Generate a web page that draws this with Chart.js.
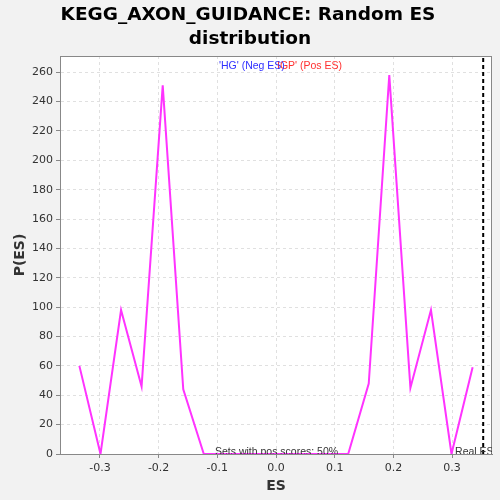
<!DOCTYPE html>
<html lang="en">
<head>
    <meta charset="UTF-8">
    <title>KEGG_AXON_GUIDANCE: Random ES distribution</title>
    <style>
        body {
            margin: 0;
            padding: 0;
            background-color: #f2f2f2;
            overflow: hidden;
        }
        #wrap {
            width: 500px;
            height: 500px;
        }
    </style>
    <script src="https://cdn.jsdelivr.net/npm/chart.js"></script>
</head>
<body>

<div id="wrap"><canvas id="esChart" width="500" height="500"></canvas></div>

<script>
    // Random ES distribution
    const esValues = [-0.335, -0.299, -0.264, -0.229, -0.193, -0.158, -0.123, -0.087, -0.052, -0.017,
                      0.017, 0.052, 0.087, 0.123, 0.158, 0.193, 0.229, 0.264, 0.299, 0.335];
    const pValues = [60, 0, 98, 46, 251, 44, 0, 0, 0, 0,
                     0, 0, 0, 0, 48, 258, 45, 98, 0, 59];

    // Real ES marker and axis range
    const realES = 0.353;
    const xRange = [-0.368, 0.368];
    const yRange = [0, 271];

    const titleLines = ['KEGG_AXON_GUIDANCE: Random ES', 'distribution'];
    const negLabel = "'HG' (Neg ES)";
    const posLabel = "IGP' (Pos ES)";
    const posScoreText = 'Sets with pos scores: 50%';
    const realEsText = 'Real ES 0.';

    const fontFamily = '"DejaVu Sans", sans-serif';
    const smallFont = '10.5px "Liberation Sans", Arial, sans-serif';

    // Draws title, axis titles, plot background and the little text labels
    const decorations = {
        id: 'decorations',
        beforeDraw(chart) {
            const c = chart.ctx;
            const a = chart.chartArea;
            c.save();
            c.fillStyle = '#ffffff';
            c.fillRect(a.left, a.top, a.right - a.left, a.bottom - a.top);
            c.restore();
        },
        afterDraw(chart) {
            const c = chart.ctx;
            const a = chart.chartArea;
            const xs = chart.scales.x;
            c.save();
            // plot frame
            c.strokeStyle = '#888888';
            c.lineWidth = 1;
            c.strokeRect(a.left + 0.5, a.top + 0.5, a.right - a.left - 1, a.bottom - a.top);

            // title
            c.fillStyle = '#000000';
            c.font = 'bold 18.5px ' + fontFamily;
            c.textAlign = 'center';
            c.textBaseline = 'middle';
            c.fillText(titleLines[0], 248, 15);
            c.fillText(titleLines[1], 250, 39);

            // axis titles
            c.fillStyle = '#333333';
            c.font = 'bold 14px ' + fontFamily;
            c.fillText('ES', 276, 486);
            c.save();
            c.translate(20, 255);
            c.rotate(-Math.PI / 2);
            c.fillText('P(ES)', 0, 0);
            c.restore();

            // legend texts
            c.font = smallFont;
            c.textAlign = 'left';
            c.fillStyle = '#ff3030';
            c.fillText(posLabel, 277, 66);
            c.fillStyle = '#3030ff';
            c.fillText(negLabel, 219, 66);

            // bottom texts, cut by the axis line
            c.fillStyle = '#333333';
            c.textBaseline = 'alphabetic';
            c.save();
            c.beginPath();
            c.rect(a.left, a.top, a.right - a.left, a.bottom - a.top);
            c.clip();
            c.fillText(posScoreText, 215, 455);
            c.fillText(realEsText, xs.getPixelForValue(0.3) + 3, 455);
            c.restore();
            c.restore();
        }
    };

    const ctx = document.getElementById('esChart').getContext('2d');
    const esChart = new Chart(ctx, {
        type: 'scatter',
        data: {
            datasets: [
                {
                    label: 'P(ES)',
                    data: esValues.map((x, i) => ({ x: x, y: pValues[i] })),
                    showLine: true,
                    borderColor: '#ff33ff',
                    backgroundColor: '#ff33ff',
                    borderWidth: 2,
                    pointRadius: 0,
                    tension: 0
                },
                {
                    label: 'Real ES',
                    data: [{ x: realES, y: yRange[0] }, { x: realES, y: yRange[1] }],
                    showLine: true,
                    borderColor: '#000000',
                    borderWidth: 2,
                    borderDash: [4, 3],
                    pointRadius: 0
                }
            ]
        },
        options: {
            responsive: false,
            animation: false,
            layout: { padding: { top: 56, right: 8, left: 0, bottom: 0 } },
            plugins: {
                legend: { display: false },
                tooltip: { enabled: false }
            },
            scales: {
                x: {
                    type: 'linear',
                    min: xRange[0],
                    max: xRange[1],
                    afterFit(scale) { scale.height = 46; },
                    border: { color: '#888888', width: 1, dash: [3, 3] },
                    grid: {
                        color: '#e0e0e0',
                        tickColor: '#888888',
                        tickLength: 4,
                        tickBorderDash: []
                    },
                    ticks: {
                        stepSize: 0.1,
                        includeBounds: false,
                        color: '#333333',
                        padding: 4,
                        font: { family: fontFamily, size: 11 },
                        callback: v => (Math.abs(v) < 1e-9 ? 0 : v).toFixed(1)
                    }
                },
                y: {
                    type: 'linear',
                    min: yRange[0],
                    max: yRange[1],
                    afterFit(scale) { scale.width = 60; },
                    border: { color: '#888888', width: 1, dash: [3, 3] },
                    grid: {
                        color: '#e0e0e0',
                        tickColor: '#888888',
                        tickLength: 4,
                        tickBorderDash: []
                    },
                    ticks: {
                        stepSize: 20,
                        includeBounds: false,
                        color: '#333333',
                        padding: 3,
                        font: { family: fontFamily, size: 11 }
                    }
                }
            }
        },
        plugins: [decorations]
    });
</script>

</body>
</html>
